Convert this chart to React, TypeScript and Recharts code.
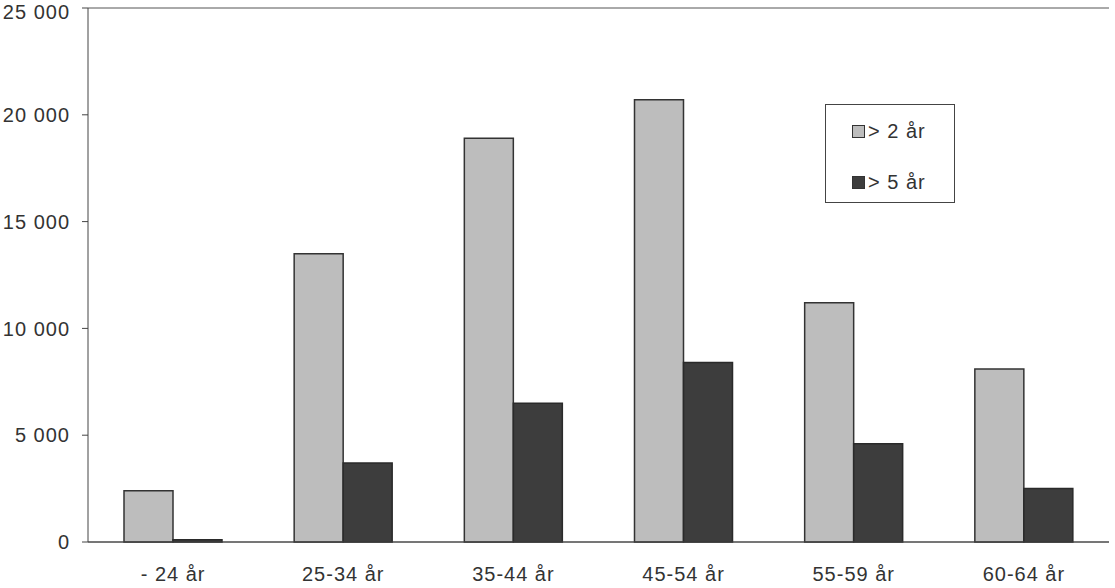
import React from 'react'
import { BarChart, Bar, XAxis, YAxis, CartesianGrid } from 'recharts'

const categories = ['- 24 år', '25-34 år', '35-44 år', '45-54 år', '55-59 år', '60-64 år']
const over2 = [2400, 13500, 18900, 20700, 11200, 8100]
const over5 = [100, 3700, 6500, 8400, 4600, 2500]
const yTicks = [0, 5000, 10000, 15000, 20000, 25000]

const data = categories.map((name, i) => ({
  name,
  over2: over2[i],
  over5: over5[i],
}))

const FONT = '"Liberation Sans", Arial, sans-serif'
const TEXT = '#333'
const LIGHT = '#bdbdbd'
const DARK = '#3d3d3d'
const tickStyle = { fill: TEXT, fontSize: 20, fontFamily: FONT, letterSpacing: 1 }

const formatThousands = (v: number) =>
  v >= 1000 ? `${Math.floor(v / 1000)} ${String(v % 1000).padStart(3, '0')}` : String(v)

// legend drawn as a plain overlay so it does not shrink the plot area
const LegendBox = () => (
  <div
    style={{
      position: 'absolute',
      left: 825,
      top: 104,
      width: 130,
      height: 99,
      border: '1px solid #444',
      background: '#fff',
      fontFamily: FONT,
      fontSize: 20,
      letterSpacing: 1,
      color: TEXT,
      boxSizing: 'border-box',
    }}
  >
    {[
      { label: '> 2 år', color: LIGHT, top: 15 },
      { label: '> 5 år', color: DARK, top: 66 },
    ].map((item) => (
      <div
        key={item.label}
        style={{ position: 'absolute', left: 26, top: item.top, display: 'flex', alignItems: 'center' }}
      >
        <span
          style={{
            display: 'inline-block',
            width: 11,
            height: 11,
            background: item.color,
            border: '1px solid #333',
            marginRight: 3,
          }}
        />
        <span style={{ lineHeight: '22px' }}>{item.label}</span>
      </div>
    ))}
  </div>
)

export default function App() {
  return (
    <div style={{ position: 'absolute', left: 0, top: 0, width: 1115, height: 588, background: '#fff' }}>
      <BarChart
        width={1115}
        height={588}
        data={data}
        margin={{ top: 8, right: 6, left: 0, bottom: 0 }}
        barGap={0}
        barSize={49}
      >
        <CartesianGrid vertical={false} stroke="#555" strokeWidth={1} />
        <XAxis
          dataKey="name"
          height={46}
          tickLine={false}
          axisLine={{ stroke: '#444' }}
          tickMargin={19}
          tick={tickStyle}
        />
        <YAxis
          yAxisId="left"
          width={88}
          domain={[0, 25000]}
          ticks={yTicks}
          tickFormatter={formatThousands}
          tickSize={6}
          tickMargin={12}
          axisLine={{ stroke: '#444' }}
          tickLine={{ stroke: '#444' }}
          tick={tickStyle}
        />
        <YAxis
          yAxisId="right"
          orientation="right"
          width={0}
          domain={[0, 25000]}
          tick={false}
          tickLine={false}
          axisLine={{ stroke: '#777' }}
        />
        <Bar
          yAxisId="left"
          dataKey="over2"
          name="> 2 år"
          fill={LIGHT}
          stroke="#333"
          strokeWidth={1.5}
          isAnimationActive={false}
        />
        <Bar
          yAxisId="left"
          dataKey="over5"
          name="> 5 år"
          fill={DARK}
          stroke="#2a2a2a"
          strokeWidth={1.5}
          isAnimationActive={false}
        />
      </BarChart>
      <LegendBox />
    </div>
  )
}
